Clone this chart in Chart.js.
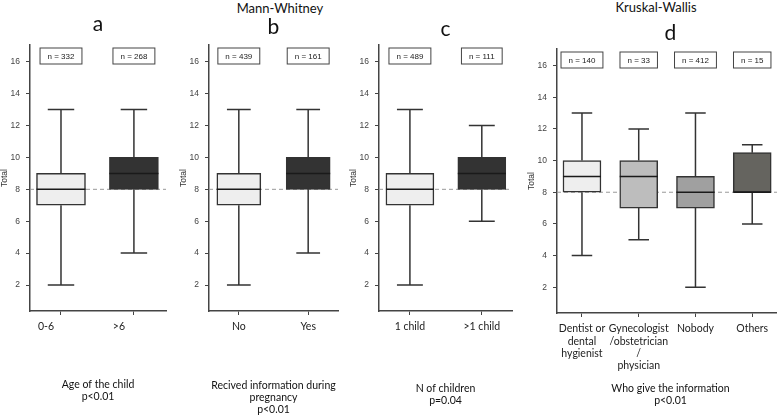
<!DOCTYPE html>
<html>
<head>
<meta charset="utf-8">
<script src="https://cdn.jsdelivr.net/npm/chart.js@4.4.1/dist/chart.umd.min.js"></script>
<style>
  body { margin: 0; background: #fff; overflow: hidden; width: 777px; height: 416px; position: relative; }
  canvas { position: absolute; top: 0; }
  .head { position: absolute; font: 13px Lato, sans-serif; line-height: 16px; color: #111; transform: translateX(-50%); white-space: nowrap; }
</style>
</head>
<body>
<div class="head" style="left:280px; top:0px">Mann-Whitney</div>
<div class="head" style="left:656px; top:-1px">Kruskal-Wallis</div>
<canvas id="panelA" width="170" height="416" style="left:0px"></canvas>
<canvas id="panelB" width="163" height="416" style="left:179px"></canvas>
<canvas id="panelC" width="167" height="416" style="left:349px"></canvas>
<canvas id="panelD" width="261" height="416" style="left:527px"></canvas>
<script>
    // shared axis values
    const yTicks = [2, 4, 6, 8, 10, 12, 14, 16];
    const refLine = 8;

    // a - age of the child
    const groupsA = ['0-6', '>6'];
    const minA = [2, 4];
    const q1A = [7, 8];
    const medA = [8, 9];
    const q3A = [9, 10];
    const maxA = [13, 13];
    const nA = [332, 268];

    // b - information during pregnancy
    const groupsB = ['No', 'Yes'];
    const minB = [2, 4];
    const q1B = [7, 8];
    const medB = [8, 9];
    const q3B = [9, 10];
    const maxB = [13, 13];
    const nB = [439, 161];

    // c - number of children
    const groupsC = ['1 child', '>1 child'];
    const minC = [2, 6];
    const q1C = [7, 8];
    const medC = [8, 9];
    const q3C = [9, 10];
    const maxC = [13, 12];
    const nC = [489, 111];

    // d - who gave the information
    const groupsD = [['Dentist or', 'dental', 'hygienist'], ['Gynecologist', '/obstetrician', '/', 'physician'], 'Nobody', 'Others'];
    const minD = [4, 5, 2, 6];
    const q1D = [8, 7, 7, 8];
    const medD = [9, 9, 8, 8];
    const q3D = [10, 10, 9, 10.5];
    const maxD = [13, 12, 13, 11];
    const nD = [140, 33, 412, 15];

    const boxPlugin = {
        id: 'boxWhiskers',
        beforeDatasetsDraw(chart) {
            const { ctx, chartArea, scales } = chart;
            const yy = scales.y.getPixelForValue(refLine);
            ctx.save();
            ctx.strokeStyle = '#9a9a9a';
            ctx.lineWidth = 1;
            ctx.setLineDash([4, 3]);
            ctx.beginPath();
            ctx.moveTo(chartArea.left, yy);
            ctx.lineTo(chartArea.right, yy);
            ctx.stroke();
            ctx.restore();
        },
        afterDatasetsDraw(chart) {
            const { ctx, chartArea, scales } = chart;
            const ds = chart.data.datasets[0];
            const y = scales.y;
            ctx.save();
            ctx.strokeStyle = '#333';
            ctx.lineWidth = 1.5;
            chart.getDatasetMeta(0).data.forEach((bar, i) => {
                const cx = bar.x;
                const half = bar.width / 2;
                const cap = bar.width * 0.27;
                const pLow = y.getPixelForValue(ds.low[i]);
                const pQ1 = y.getPixelForValue(ds.data[i].y[0]);
                const pQ3 = y.getPixelForValue(ds.data[i].y[1]);
                const pHigh = y.getPixelForValue(ds.high[i]);
                const pMed = y.getPixelForValue(ds.median[i]);
                ctx.beginPath();
                ctx.moveTo(cx, pQ3); ctx.lineTo(cx, pHigh);
                ctx.moveTo(cx - cap, pHigh); ctx.lineTo(cx + cap, pHigh);
                ctx.moveTo(cx, pQ1); ctx.lineTo(cx, pLow);
                ctx.moveTo(cx - cap, pLow); ctx.lineTo(cx + cap, pLow);
                ctx.stroke();
                ctx.beginPath();
                ctx.strokeStyle = '#1a1a1a';
                ctx.moveTo(cx - half, pMed); ctx.lineTo(cx + half, pMed);
                ctx.stroke();

                // n = ... label box
                const label = 'n = ' + ds.counts[i];
                ctx.font = '8px "Liberation Sans", Arial, sans-serif';
                const w = ctx.measureText(label).width + 15;
                const top = chartArea.top + 3;
                ctx.fillStyle = '#fff';
                ctx.fillRect(cx - w / 2, top, w, 16);
                ctx.lineWidth = 1;
                ctx.strokeStyle = '#444';
                ctx.strokeRect(cx - w / 2, top, w, 16);
                ctx.fillStyle = '#222';
                ctx.textAlign = 'center';
                ctx.textBaseline = 'middle';
                ctx.fillText(label, cx, top + 8.5);
                ctx.lineWidth = 1.5;
                ctx.strokeStyle = '#333';
            });
            ctx.restore();
        }
    };

    function boxPanel(id, o) {
        return new Chart(document.getElementById(id), {
            type: 'bar',
            data: {
                datasets: [{
                    data: o.groups.map((g, i) => ({ x: i, y: [o.q1[i], o.q3[i]] })),
                    low: o.min,
                    median: o.med,
                    high: o.max,
                    counts: o.n,
                    backgroundColor: o.colors,
                    borderColor: '#333',
                    borderWidth: 1.5,
                    borderSkipped: false,
                    barThickness: o.boxWidth
                }]
            },
            options: {
                responsive: false,
                animation: false,
                layout: { padding: { right: 4 } },
                plugins: {
                    legend: { display: false },
                    tooltip: { enabled: false },
                    title: {
                        display: true,
                        text: o.letter,
                        fullSize: false,
                        color: '#111',
                        font: { family: 'Lato', size: 21, weight: 'normal', lineHeight: 1 },
                        padding: o.titlePad
                    }
                },
                scales: {
                    x: {
                        type: 'linear',
                        offset: false,
                        min: o.xMin,
                        max: o.xMax,
                        afterBuildTicks: s => { s.ticks = o.groups.map((g, i) => ({ value: i })); },
                        afterFit: s => { s.height = o.xAxisHeight; },
                        ticks: {
                            autoSkip: false,
                            maxRotation: 0,
                            padding: 6,
                            labelOffset: o.labelOffset || 0,
                            color: '#222',
                            font: { family: 'Lato', size: 10.5, lineHeight: 1.15 },
                            callback: v => o.groups[v]
                        },
                        grid: { display: true, offset: false, drawOnChartArea: false, tickLength: 4, color: '#444', lineWidth: 1 },
                        border: { display: true, color: '#444', width: 1.5 },
                        title: {
                            display: true,
                            text: o.xTitle,
                            color: '#111',
                            font: { family: 'Lato', size: 10.5, lineHeight: 1.15 },
                            padding: { top: 0, bottom: o.xTitlePad }
                        }
                    },
                    y: {
                        min: 0.37,
                        max: 17.05,
                        afterBuildTicks: s => { s.ticks = yTicks.map(v => ({ value: v })); },
                        afterFit: s => { s.width = 30; },
                        ticks: {
                            padding: 6,
                            color: '#444',
                            font: { family: 'Liberation Sans', size: 8.5 }
                        },
                        grid: { display: true, drawOnChartArea: false, tickLength: 4, color: '#444', lineWidth: 1 },
                        border: { display: true, color: '#444', width: 1.5 },
                        title: {
                            display: true,
                            text: 'Total',
                            color: '#333',
                            padding: 0,
                            font: { family: 'Liberation Sans', size: 8.5 }
                        }
                    }
                }
            },
            plugins: [boxPlugin]
        });
    }

    boxPanel('panelA', {
        groups: groupsA, min: minA, q1: q1A, med: medA, q3: q3A, max: maxA, n: nA,
        colors: ['#eeeeee', '#333333'], boxWidth: 49, letter: 'a',
        titlePad: { top: 14, bottom: 10 }, xMin: -0.425, xMax: 1.44, xAxisHeight: 105,
        labelOffset: -15, xTitle: ['Age of the child', 'p<0.01'], xTitlePad: 13
    });
    boxPanel('panelB', {
        groups: groupsB, min: minB, q1: q1B, med: medB, q3: q3B, max: maxB, n: nB,
        colors: ['#eeeeee', '#333333'], boxWidth: 44, letter: 'b',
        titlePad: { top: 17, bottom: 7 }, xMin: -0.43, xMax: 1.43, xAxisHeight: 105,
        xTitle: ['Recived information during', 'pregnancy', 'p<0.01'], xTitlePad: 0
    });
    boxPanel('panelC', {
        groups: groupsC, min: minC, q1: q1C, med: medC, q3: q3C, max: maxC, n: nC,
        colors: ['#eeeeee', '#333333'], boxWidth: 48, letter: 'c',
        titlePad: { top: 19, bottom: 5 }, xMin: -0.43, xMax: 1.42, xAxisHeight: 105,
        xTitle: ['N of children', 'p=0.04'], xTitlePad: 9.5
    });
    boxPanel('panelD', {
        groups: groupsD, min: minD, q1: q1D, med: medD, q3: q3D, max: maxD, n: nD,
        colors: ['#eeeeee', '#bdbdbd', '#a0a0a0', '#65645f'], boxWidth: 38, letter: 'd',
        titlePad: { top: 23, bottom: 5 }, xMin: -0.44, xMax: 3.56, xAxisHeight: 103,
        xTitle: ['Who give the information', 'p<0.01'], xTitlePad: 9
    });
</script>
</body>
</html>
